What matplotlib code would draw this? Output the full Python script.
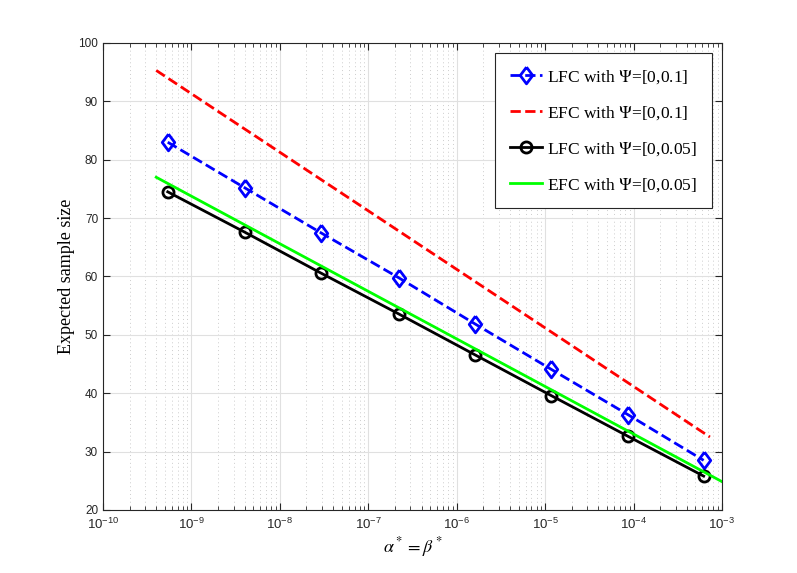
import numpy as np
import matplotlib
matplotlib.use("Agg")
import matplotlib.pyplot as plt
from matplotlib.ticker import LogLocator, FixedLocator, NullFormatter

plt.rcParams["mathtext.fontset"] = "custom"
plt.rcParams["mathtext.rm"] = "Liberation Sans"
plt.rcParams["font.family"] = "Liberation Sans"

# alpha* = beta* values where the LFC points were evaluated
alpha = [5.4e-10, 4.0e-9, 2.9e-8, 2.2e-7, 1.6e-6, 1.17e-5, 8.7e-5, 6.2e-4]
lfc_01 = [83.0, 75.2, 67.5, 59.8, 51.9, 44.1, 36.3, 28.5]
lfc_005 = [74.5, 67.6, 60.6, 53.6, 46.6, 39.6, 32.6, 25.8]

# EFC curves (straight in log-x)
efc_01_x = [4.0e-10, 7.3e-4]
efc_01_y = [95.3, 32.5]
efc_005_x = [4.0e-10, 1.0e-3]
efc_005_y = [77.0, 24.85]

x_ticks = [1e-10, 1e-9, 1e-8, 1e-7, 1e-6, 1e-5, 1e-4, 1e-3]
y_ticks = [20, 30, 40, 50, 60, 70, 80, 90, 100]

diamond = [(0, 1), (0.75, 0), (0, -1), (-0.75, 0), (0, 1)]

fig = plt.figure(figsize=(7.97, 5.73), dpi=100)
ax = fig.add_axes([0.1292, 0.110, 0.7767, 0.815])

ax.plot(alpha, lfc_01, "b--", marker=diamond, ms=12, mfc="none", mew=2, lw=2,
        label=r"LFC with $\Psi$=[0,0.1]")
ax.plot(efc_01_x, efc_01_y, "r--", lw=2, label=r"EFC with $\Psi$=[0,0.1]")
ax.plot(alpha, lfc_005, "k-", marker="o", ms=8, mfc="none", mew=2, lw=2,
        label=r"LFC with $\Psi$=[0,0.05]")
ax.plot(efc_005_x, efc_005_y, color="#00ff00", lw=2, label=r"EFC with $\Psi$=[0,0.05]")

ax.set_xscale("log")
ax.set_xlim(1e-10, 1e-3)
ax.set_ylim(20, 100)
ax.xaxis.set_major_locator(FixedLocator(x_ticks))
ax.xaxis.set_minor_locator(LogLocator(base=10, subs=np.arange(2, 10), numticks=20))
ax.xaxis.set_minor_formatter(NullFormatter())
ax.yaxis.set_major_locator(FixedLocator(y_ticks))

ax.grid(True, which="major", color="#e0e0e0", lw=0.8, ls="-")
ax.grid(True, which="minor", axis="x", color="#cccccc", lw=0.7, ls=(0, (1, 3)))
ax.set_axisbelow(True)
ax.tick_params(which="both", direction="in", top=True, right=True,
               colors="#262626", labelsize=8.5)
ax.tick_params(axis="x", which="major", pad=5, labelsize=9.5)
ax.tick_params(which="major", length=5)
ax.tick_params(which="minor", length=3)
for s in ax.spines.values():
    s.set_color("#262626")
    s.set_linewidth(0.8)

ax.set_xlabel(r"$\alpha^* = \beta^*$", fontsize=13, family="Liberation Serif",
              math_fontfamily="stix", labelpad=2)
ax.set_ylabel("Expected sample size", fontsize=13, family="Liberation Serif",
              labelpad=2)

leg = ax.legend(loc="upper right", fancybox=False, framealpha=1,
                edgecolor="#262626", borderpad=0.85, labelspacing=1.05,
                handlelength=1.85, handletextpad=0.3, borderaxespad=0.6,
                prop={"family": "Liberation Serif", "size": 12.5})
leg.get_frame().set_linewidth(0.8)
for t in leg.get_texts():
    t.set_math_fontfamily("stix")

fig.savefig("out.png", dpi=100)
